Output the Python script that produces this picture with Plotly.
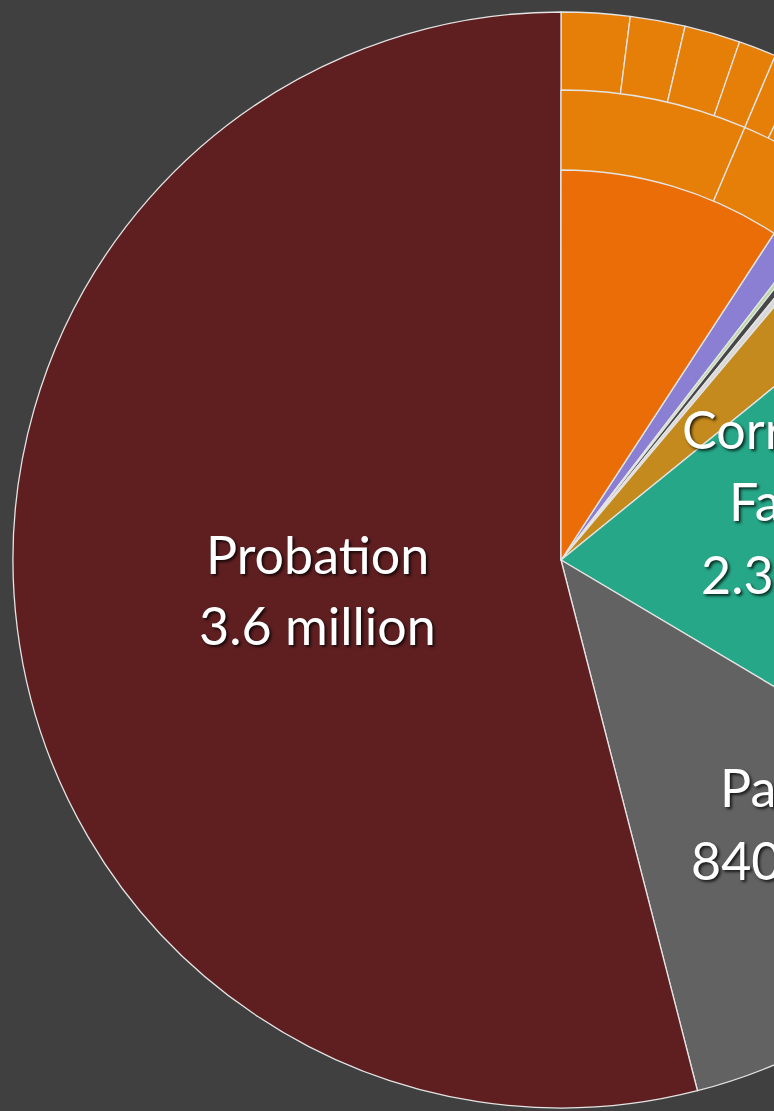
import plotly.graph_objects as go

# Populations under correctional control, in thousands
probation = 3640
parole = 840

# Correctional facilities, broken down (thousands)
facility_names = ["Juvenile facilities", "Indian Country", "Immigration detention",
                  "Territorial prisons", "Federal prisons", "State prisons"]
facility_values = [84, 11, 19, 17, 202, 1307]
facility_colors = ["#8b7fd4", "#b9d9a2", "#474747", "#d9d9d9", "#c48a1d", "#26a888"]

# Local jails and their two outer rings
jail_total = 620
jail_status = ["Not convicted", "Convicted"]
jail_status_values = [431, 189]
jail_offense = ["Violent (not convicted)", "Property (not convicted)",
                "Drug (not convicted)", "Public order (not convicted)",
                "Violent (convicted)", "Property (convicted)",
                "Drug (convicted)", "Public order (convicted)"]
jail_offense_values = [136, 109, 111, 75, 59, 47, 43, 40]

BG = "#404040"
EDGE = "#e4e4e4"
CLEAR = "rgba(0,0,0,0)"
LW = 1.3

rest_names = facility_names + ["Parole", "Probation"]
rest_values = facility_values + [parole, probation]
rest_colors = facility_colors + ["#636262", "#5f1f21"]

W, H = 1122, 1120
ML, MT = 13, 12
PW = W - 2 * ML          # plot width
R_OUT = PW / 2
R_MID = 470
R_IN = 390


def dom(r):
    h = r / PW
    return [0.5 - h, 0.5 + h]


common = dict(sort=False, direction="clockwise", rotation=0,
              textinfo="none", showlegend=False)

fig = go.Figure()

# outer ring: offense breakdown plus every other slice at full radius
fig.add_trace(go.Pie(
    labels=jail_offense + rest_names,
    values=jail_offense_values + rest_values,
    marker=dict(colors=["#e67f08"] * len(jail_offense) + rest_colors,
                line=dict(color=EDGE, width=LW)),
    domain=dict(x=dom(R_OUT), y=dom(R_OUT)),
    **common,
))

# middle ring: jail status
n_rest = len(rest_names)
fig.add_trace(go.Pie(
    labels=jail_status + [n + " " for n in rest_names],
    values=jail_status_values + rest_values,
    marker=dict(colors=["#e67f08"] * 2 + [CLEAR] * n_rest,
                line=dict(color=EDGE, width=[LW] * 2 + [0] * n_rest)),
    domain=dict(x=dom(R_MID), y=dom(R_MID)),
    hoverinfo="label+value",
    **common,
))

# inner disc: local jails
fig.add_trace(go.Pie(
    labels=["Local jails"] + [n + "  " for n in rest_names],
    values=[jail_total] + rest_values,
    marker=dict(colors=["#eb6d08"] + [CLEAR] * n_rest,
                line=dict(color=EDGE, width=[LW] + [0] * n_rest)),
    domain=dict(x=dom(R_IN), y=dom(R_IN)),
    hoverinfo="label+value",
    **common,
))

label_font = dict(family="Lato, 'Open Sans', sans-serif", size=52, color="white",
                  shadow="2px 2px 3px rgba(0,0,0,0.75)")


def px_to_paper(x, y):
    return (x - ML) / PW, 1 - (y - MT) / PW


labels = [
    ("Probation", 317, 554),
    ("3.6 million", 317, 625),
    ("Correctional", 822, 429),
    ("Facilities", 827, 501),
    ("2.3 million", 820, 574),
    ("Parole", 791, 787),
    ("840,000", 787, 860),
]
annotations = []
for text, x, y in labels:
    px, py = px_to_paper(x, y)
    annotations.append(dict(text=text, x=px, y=py, xref="paper", yref="paper",
                            showarrow=False, font=label_font,
                            xanchor="center", yanchor="middle"))

fig.update_layout(
    width=W, height=H,
    margin=dict(l=ML, r=ML, t=MT, b=H - MT - PW),
    paper_bgcolor=BG, plot_bgcolor=BG,
    annotations=annotations,
)

fig.write_html(
    "out.html",
    post_script=("document.body.style.margin='0';"
                 "document.body.style.overflow='hidden';"
                 "document.documentElement.style.overflow='hidden';"),
)
